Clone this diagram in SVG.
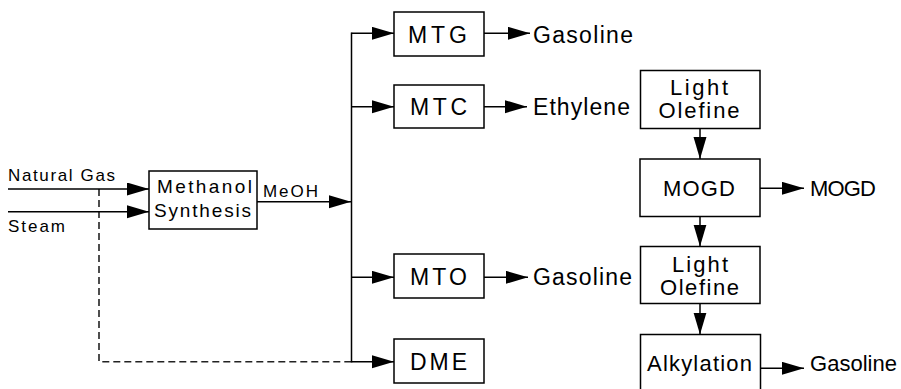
<svg xmlns="http://www.w3.org/2000/svg" width="901" height="389" viewBox="0 0 901 389">
<defs>
<marker id="arr" markerUnits="userSpaceOnUse" markerWidth="24" markerHeight="14" refX="22" refY="6.5" orient="auto">
<path d="M0,0 L22,6.5 L0,13 Z" fill="#000"/>
</marker>
<style>
.box{fill:#fff;stroke:#000;stroke-width:1.5}
.ln{fill:none;stroke:#000;stroke-width:1.5}
.dash{fill:none;stroke:#222;stroke-width:1.6;stroke-dasharray:7,4}
text{font-family:"Liberation Sans",Arial,sans-serif;fill:#000}
.s{font-size:17px}
.m{font-size:19px}
.l{font-size:23px}
.k{font-size:22px}
</style>
</defs>
<rect width="901" height="389" fill="#fff"/>
<g id="connectors">
<path class="dash" d="M99,189 V361.7 H351.5"/>
<line class="ln" x1="8" y1="189" x2="149" y2="189" marker-end="url(#arr)"/>
<line class="ln" x1="8" y1="211.7" x2="149" y2="211.7" marker-end="url(#arr)"/>
<line class="ln" x1="257" y1="201.7" x2="351" y2="201.7" marker-end="url(#arr)"/>
<line class="ln" x1="351.5" y1="32.5" x2="351.5" y2="362.5"/>
<line class="ln" x1="351.5" y1="33.3" x2="394" y2="33.3" marker-end="url(#arr)"/>
<line class="ln" x1="351.5" y1="106.7" x2="394" y2="106.7" marker-end="url(#arr)"/>
<line class="ln" x1="351.5" y1="277.3" x2="394" y2="277.3" marker-end="url(#arr)"/>
<line class="ln" x1="351.5" y1="361.7" x2="394" y2="361.7" marker-end="url(#arr)"/>
<line class="ln" x1="484" y1="33.3" x2="530" y2="33.3" marker-end="url(#arr)"/>
<line class="ln" x1="484" y1="106.7" x2="527" y2="106.7" marker-end="url(#arr)"/>
<line class="ln" x1="484" y1="277.3" x2="528" y2="277.3" marker-end="url(#arr)"/>
<line class="ln" x1="700" y1="128.5" x2="700" y2="159" marker-end="url(#arr)"/>
<line class="ln" x1="760" y1="188.3" x2="804" y2="188.3" marker-end="url(#arr)"/>
<line class="ln" x1="700" y1="216.7" x2="700" y2="246.5" marker-end="url(#arr)"/>
<line class="ln" x1="700" y1="303.5" x2="700" y2="334.5" marker-end="url(#arr)"/>
<line class="ln" x1="760.5" y1="368.3" x2="804" y2="368.3" marker-end="url(#arr)"/>
</g>
<g id="label-natural-gas"><text class="s" x="8" y="181" textLength="107" lengthAdjust="spacing">Natural Gas</text></g>
<g id="label-steam"><text class="s" x="8" y="232" textLength="57" lengthAdjust="spacing">Steam</text></g>
<g id="node-methanol">
<rect class="box" x="149" y="171" width="108" height="58"/>
<text class="m" x="157" y="193" textLength="95" lengthAdjust="spacing">Methanol</text>
<text class="m" x="154" y="217" textLength="97" lengthAdjust="spacing">Synthesis</text>
</g>
<g id="label-meoh"><text class="s" x="263" y="197" textLength="55" lengthAdjust="spacing">MeOH</text></g>
<g id="node-mtg">
<rect class="box" x="394" y="12" width="90" height="44"/>
<text class="l" x="408" y="43" textLength="59" lengthAdjust="spacing">MTG</text>
</g>
<g id="node-mtc">
<rect class="box" x="394" y="85" width="90" height="43"/>
<text class="l" x="410" y="115" textLength="57" lengthAdjust="spacing">MTC</text>
</g>
<g id="node-mto">
<rect class="box" x="394" y="254" width="90" height="44"/>
<text class="l" x="410" y="285" textLength="57" lengthAdjust="spacing">MTO</text>
</g>
<g id="node-dme">
<rect class="box" x="394" y="339" width="90" height="44"/>
<text class="l" x="410" y="370" textLength="57" lengthAdjust="spacing">DME</text>
</g>
<g id="label-gasoline-1"><text class="l" x="533" y="43" textLength="100" lengthAdjust="spacing">Gasoline</text></g>
<g id="label-ethylene"><text class="l" x="533" y="115" textLength="97" lengthAdjust="spacing">Ethylene</text></g>
<g id="label-gasoline-2"><text class="l" x="533" y="285" textLength="99" lengthAdjust="spacing">Gasoline</text></g>
<g id="node-light-olefine-1">
<rect class="box" x="640.5" y="70.5" width="119.5" height="58"/>
<text class="k" x="670" y="95" textLength="58" lengthAdjust="spacing">Light</text>
<text class="k" x="658.5" y="118" textLength="81" lengthAdjust="spacing">Olefine</text>
</g>
<g id="node-mogd">
<rect class="box" x="640" y="159" width="120" height="57.5"/>
<text class="k" x="663" y="196" textLength="72" lengthAdjust="spacing">MOGD</text>
</g>
<g id="label-mogd"><text class="k" x="810" y="196" textLength="66" lengthAdjust="spacing">MOGD</text></g>
<g id="node-light-olefine-2">
<rect class="box" x="640.5" y="246.5" width="119.5" height="57"/>
<text class="k" x="672" y="272" textLength="56" lengthAdjust="spacing">Light</text>
<text class="k" x="660" y="295" textLength="79" lengthAdjust="spacing">Olefine</text>
</g>
<g id="node-alkylation">
<rect class="box" x="640.5" y="334.5" width="120" height="62"/>
<text class="k" x="647" y="371" textLength="105" lengthAdjust="spacing">Alkylation</text>
</g>
<g id="label-gasoline-3"><text class="k" x="810" y="371" textLength="87" lengthAdjust="spacing">Gasoline</text></g>
</svg>
